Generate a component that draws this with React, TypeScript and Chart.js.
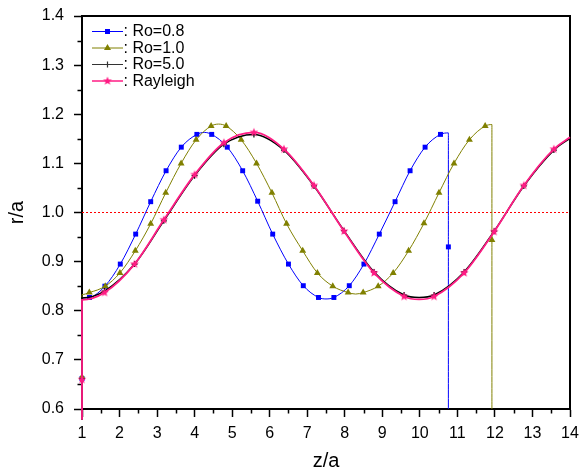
import React, { useEffect, useRef } from 'react';
import { Chart, registerables } from 'chart.js';

Chart.register(...registerables);

const FONT = '"Liberation Sans", Arial, Helvetica, sans-serif';

// ---- axis ticks ----
const xAxisTicks = [1, 2, 3, 4, 5, 6, 7, 8, 9, 10, 11, 12, 13, 14];
const yAxisTicks = [0.6, 0.7, 0.8, 0.9, 1.0, 1.1, 1.2, 1.3, 1.4];
const seriesNames = ['Ro=0.8', 'Ro=1.0', 'Ro=5.0', 'Rayleigh'];

// ---- Ro = 0.8 (blue squares) ----
const ro08X = [1, 1, 1, 1.2, 1.61, 2.02, 2.43, 2.83, 3.24, 3.645, 4.06, 4.26, 4.455, 4.87, 5.28, 5.68, 6.08, 6.5, 6.895, 7.3, 7.5, 7.71, 8.12, 8.51, 8.92, 9.34, 9.74, 10.14, 10.55, 10.76, 10.76, 10.76];
const ro08Y = [0.578, 0.662, 0.826, 0.827, 0.85, 0.895, 0.956, 1.022, 1.085, 1.133, 1.159, 1.163, 1.159, 1.133, 1.085, 1.023, 0.956, 0.895, 0.851, 0.827, 0.824, 0.827, 0.851, 0.895, 0.956, 1.022, 1.085, 1.133, 1.159, 1.162, 0.93, 0.6];
const ro08Mark = [0, 1, 0, 1, 1, 1, 1, 1, 1, 1, 1, 0, 1, 1, 1, 1, 1, 1, 1, 1, 0, 1, 1, 1, 1, 1, 1, 1, 1, 0, 1, 0];

// ---- Ro = 1.0 (olive triangles) ----
const ro10X = [1, 1, 1, 1.195, 1.62, 2.01, 2.42, 2.83, 3.23, 3.64, 4.04, 4.44, 4.64, 4.84, 5.24, 5.65, 6.06, 6.45, 6.88, 7.27, 7.68, 8.09, 8.29, 8.49, 8.89, 9.29, 9.7, 10.11, 10.51, 10.91, 11.32, 11.74, 11.92, 11.92, 11.92];
const ro10Y = [0.578, 0.665, 0.833, 0.837, 0.85, 0.877, 0.922, 0.977, 1.04, 1.1, 1.148, 1.176, 1.18, 1.176, 1.148, 1.1, 1.04, 0.977, 0.922, 0.877, 0.85, 0.837, 0.834, 0.837, 0.85, 0.877, 0.922, 0.978, 1.04, 1.1, 1.148, 1.176, 1.179, 0.944, 0.6];
const ro10Mark = [0, 1, 0, 1, 1, 1, 1, 1, 1, 1, 1, 1, 0, 1, 1, 1, 1, 1, 1, 1, 1, 1, 0, 1, 1, 1, 1, 1, 1, 1, 1, 1, 0, 1, 0];

// ---- Ro = 5.0 (black crosses) ----
const ro50X = [1, 1, 1, 1.6, 2.4, 3.18, 4.0, 4.78, 5.58, 6.38, 7.18, 7.98, 8.78, 9.58, 9.98, 10.38, 11.18, 11.98, 12.77, 13.57, 14];
const ro50Y = [0.578, 0.662, 0.826, 0.84, 0.895, 0.983, 1.075, 1.139, 1.159, 1.127, 1.054, 0.963, 0.879, 0.832, 0.827, 0.832, 0.879, 0.962, 1.054, 1.127, 1.151];
const ro50Mark = [0, 1, 0, 1, 1, 1, 1, 1, 1, 1, 1, 1, 1, 1, 0, 1, 1, 1, 1, 1, 0];

// ---- Rayleigh (pink stars) ----
const rayX = [1, 1, 1, 1.6, 2.4, 3.18, 4.0, 4.78, 5.58, 6.38, 7.18, 7.98, 8.78, 9.58, 9.98, 10.38, 11.18, 11.98, 12.77, 13.57, 14];
const rayY = [0.578, 0.66, 0.822, 0.837, 0.895, 0.985, 1.077, 1.142, 1.163, 1.129, 1.055, 0.962, 0.877, 0.829, 0.823, 0.829, 0.877, 0.961, 1.055, 1.129, 1.153];
const rayMark = [0, 1, 0, 1, 1, 1, 1, 1, 1, 1, 1, 1, 1, 1, 0, 1, 1, 1, 1, 1, 0];

// ---- reference line r/a = 1 ----
const refX = [1, 14];
const refY = [1.0, 1.0];

const BLUE = '#0000FF';
const OLIVE = '#808000';
const BLACK = '#000000';
const PINK = '#FF1C84';
const RED = '#FF0000';

function makeStar(color: string, outer = 4.6, inner = 2.0) {
  const size = Math.ceil(outer * 2) + 2;
  const c = document.createElement('canvas');
  c.width = size;
  c.height = size;
  const g = c.getContext('2d')!;
  g.translate(size / 2, size / 2);
  g.beginPath();
  for (let i = 0; i < 10; i++) {
    const r = i % 2 === 0 ? outer : inner;
    const a = -Math.PI / 2 + (i * Math.PI) / 5;
    g.lineTo(r * Math.cos(a), r * Math.sin(a));
  }
  g.closePath();
  g.fillStyle = color;
  g.fill();
  return c;
}

function pts(xs: number[], ys: number[]) {
  return xs.map((x, i) => ({ x, y: ys[i] }));
}

function drawMarker(ctx: CanvasRenderingContext2D, kind: string, x: number, y: number, color: string, star: HTMLCanvasElement) {
  ctx.save();
  ctx.fillStyle = color;
  ctx.strokeStyle = color;
  if (kind === 'rect') {
    ctx.fillRect(x - 2.5, y - 2.5, 5, 5);
  } else if (kind === 'triangle') {
    ctx.beginPath();
    ctx.moveTo(x, y - 4);
    ctx.lineTo(x + 3.5, y + 2);
    ctx.lineTo(x - 3.5, y + 2);
    ctx.closePath();
    ctx.fill();
  } else if (kind === 'cross') {
    ctx.lineWidth = 1.2;
    ctx.beginPath();
    ctx.moveTo(x - 3, y);
    ctx.lineTo(x + 3, y);
    ctx.moveTo(x, y - 3);
    ctx.lineTo(x, y + 3);
    ctx.stroke();
  } else {
    ctx.drawImage(star, x - star.width / 2, y - star.height / 2);
  }
  ctx.restore();
}

export default function App() {
  const ref = useRef<HTMLCanvasElement>(null);

  useEffect(() => {
    const canvas = ref.current!;
    const star = makeStar(PINK);

    const legendItems = [
      { name: seriesNames[0], color: BLUE, kind: 'rect', width: 1 },
      { name: seriesNames[1], color: OLIVE, kind: 'triangle', width: 1 },
      { name: seriesNames[2], color: '#333333', kind: 'cross', width: 1 },
      { name: seriesNames[3], color: PINK, kind: 'star', width: 1.5 },
    ];

    const decor = {
      id: 'decor',
      beforeDatasetsDraw(chart: any) {
        const { ctx, chartArea: a, scales } = chart;
        const xs = scales.x;
        const ys = scales.y;
        ctx.save();
        // frame
        ctx.strokeStyle = '#000';
        ctx.lineWidth = 2;
        ctx.strokeRect(a.left, a.top, a.right - a.left, a.bottom - a.top);
        // minor ticks
        ctx.lineWidth = 1.5;
        ctx.beginPath();
        for (let i = 0; i < xAxisTicks.length - 1; i++) {
          const v = (xAxisTicks[i] + xAxisTicks[i + 1]) / 2;
          const px = Math.round(xs.getPixelForValue(v)) + 0.5;
          ctx.moveTo(px, a.bottom);
          ctx.lineTo(px, a.bottom + 4.5);
        }
        for (let i = 0; i < yAxisTicks.length - 1; i++) {
          const v = (yAxisTicks[i] + yAxisTicks[i + 1]) / 2;
          const py = Math.round(ys.getPixelForValue(v)) + 0.5;
          ctx.moveTo(a.left, py);
          ctx.lineTo(a.left - 4.5, py);
        }
        ctx.stroke();
        ctx.restore();
      },
      afterDatasetsDraw(chart: any) {
        const { ctx } = chart;
        ctx.save();
        ctx.font = `16px ${FONT}`;
        ctx.textBaseline = 'middle';
        ctx.textAlign = 'left';
        legendItems.forEach((it, i) => {
          const y = 31.5 + i * 16.5;
          ctx.strokeStyle = it.color;
          ctx.lineWidth = it.width;
          ctx.beginPath();
          ctx.moveTo(92, y);
          ctx.lineTo(123, y);
          ctx.stroke();
          drawMarker(ctx, it.kind, 107.5, y, it.color, star);
          ctx.fillStyle = '#000';
          ctx.fillText(': ' + it.name, 123.5, y + 0.5);
        });
        ctx.restore();
      },
    };

    const markRadius = (marks: number[], r: number) => (c: any) => (marks[c.dataIndex] ? r : 0);

    const chart = new Chart(canvas, {
      type: 'line',
      data: {
        datasets: [
          {
            label: seriesNames[3],
            data: pts(rayX, rayY),
            borderColor: PINK,
            backgroundColor: PINK,
            borderWidth: 1.8,
            pointStyle: star as any,
            pointRadius: markRadius(rayMark, 4) as any,
            cubicInterpolationMode: 'monotone',
            clip: false as any,
            order: 0,
          },
          {
            label: seriesNames[2],
            data: pts(ro50X, ro50Y),
            borderColor: BLACK,
            backgroundColor: BLACK,
            borderWidth: 1.5,
            pointStyle: 'cross',
            pointBorderWidth: 1.2,
            pointRadius: markRadius(ro50Mark, 3) as any,
            cubicInterpolationMode: 'monotone',
            clip: false as any,
            order: 1,
          },
          {
            label: seriesNames[1],
            data: pts(ro10X, ro10Y),
            borderColor: OLIVE,
            backgroundColor: OLIVE,
            borderWidth: 1,
            pointStyle: 'triangle',
            pointBorderWidth: 0,
            pointRadius: markRadius(ro10Mark, 4) as any,
            cubicInterpolationMode: 'monotone',
            clip: false as any,
            order: 2,
          },
          {
            label: seriesNames[0],
            data: pts(ro08X, ro08Y),
            borderColor: BLUE,
            backgroundColor: BLUE,
            borderWidth: 1,
            pointStyle: 'rect',
            pointBorderWidth: 0,
            pointRadius: markRadius(ro08Mark, 3.5) as any,
            cubicInterpolationMode: 'monotone',
            clip: false as any,
            order: 3,
          },
          {
            label: 'r/a = 1',
            data: pts(refX, refY),
            borderColor: RED,
            borderWidth: 1,
            borderDash: [2, 2],
            pointRadius: 0,
            order: 4,
          },
        ],
      },
      options: {
        responsive: false,
        devicePixelRatio: 1,
        animation: false,
        events: [],
        layout: { padding: { top: 16, right: 11, left: 0, bottom: 0 } },
        plugins: {
          legend: { display: false },
          tooltip: { enabled: false },
        },
        scales: {
          x: {
            type: 'linear',
            min: 1,
            max: 14,
            afterBuildTicks: (s: any) => {
              s.ticks = xAxisTicks.map((v) => ({ value: v }));
            },
            afterFit: (s: any) => {
              s.height = 60;
              s.paddingLeft = 0;
              s.paddingRight = 0;
            },
            border: { display: true, color: '#000', width: 2 },
            grid: {
              drawOnChartArea: false,
              drawTicks: true,
              tickLength: 8,
              tickWidth: 1.5,
              tickColor: '#000',
            },
            ticks: {
              color: '#000',
              font: { family: FONT, size: 16 },
              padding: 7,
              maxRotation: 0,
              autoSkip: false,
              callback: (v: any) => String(v),
            },
            title: {
              display: true,
              text: 'z/a',
              color: '#000',
              font: { family: FONT, size: 20, lineHeight: 1 },
              padding: { top: 0, bottom: -2 },
            },
          },
          y: {
            type: 'linear',
            min: 0.6,
            max: 1.4,
            afterBuildTicks: (s: any) => {
              s.ticks = yAxisTicks.map((v) => ({ value: v }));
            },
            afterFit: (s: any) => {
              s.width = 82;
              s.paddingTop = 0;
              s.paddingBottom = 0;
            },
            border: { display: true, color: '#000', width: 2 },
            grid: {
              drawOnChartArea: false,
              drawTicks: true,
              tickLength: 8,
              tickWidth: 1.5,
              tickColor: '#000',
            },
            ticks: {
              color: '#000',
              font: { family: FONT, size: 16 },
              padding: 10,
              autoSkip: false,
              callback: (v: any) => Number(v).toFixed(1),
            },
            title: {
              display: true,
              text: 'r/a',
              color: '#000',
              font: { family: FONT, size: 20, lineHeight: 1 },
              padding: { top: 7.5, bottom: 0 },
            },
          },
        },
      },
      plugins: [decor],
    });

    return () => chart.destroy();
  }, []);

  return (
    <div style={{ position: 'absolute', left: 0, top: 0, width: 581, height: 469 }}>
      <canvas ref={ref} width={581} height={469} style={{ display: 'block' }} />
    </div>
  );
}
